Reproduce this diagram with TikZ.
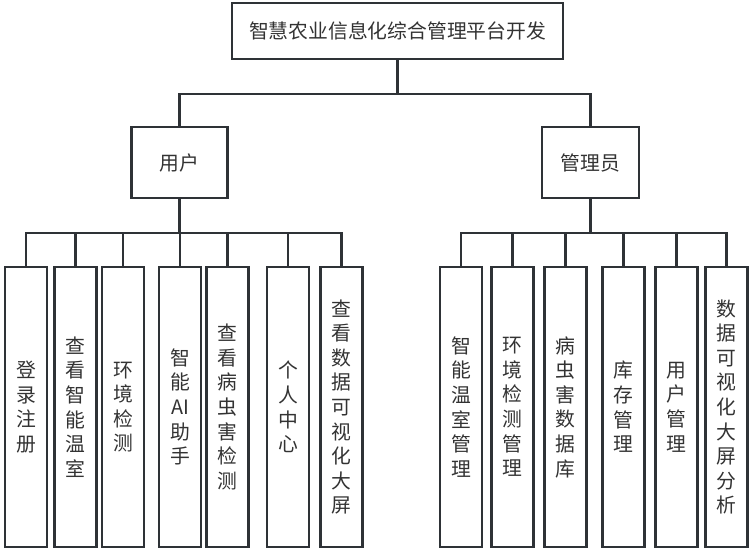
\documentclass[tikz,border=0pt]{standalone}
\usepackage{fontspec}
\setmainfont{Noto Sans CJK SC}
\definecolor{linegray}{HTML}{2E3236}
\definecolor{textgray}{HTML}{333333}
\tikzset{
    box/.style={draw=linegray, line width=2.2pt, fill=white, text=textgray,
        align=center, inner sep=0pt, font=\fontsize{19.8}{24.6}\selectfont},
    leaf/.style={box, minimum width=42pt, minimum height=280pt},
    link/.style={draw=linegray, line width=2.2pt}
}

\begin{document}
\begin{tikzpicture}[x=1pt,y=-1pt]
    \useasboundingbox (0,0) rectangle (756,555);

    % top and second level
    \node[box, minimum width=331pt, minimum height=56pt] (top) at (397.5,31) {智慧农业信息化综合管理平台开发};
    \node[box, minimum width=96pt, minimum height=71pt] (user) at (179.5,162.5) {用户};
    \node[box, minimum width=97pt, minimum height=71pt] (admin) at (590.5,162.5) {管理员};

    \coordinate (tbar) at (397.5,94);
    \coordinate (ubar) at (179.5,233);
    \coordinate (abar) at (590.5,233);

    % user leaves
    \node[leaf] (u1) at (26,407) {登\\录\\注\\册};
    \node[leaf] (u2) at (75.5,407) {查\\看\\智\\能\\温\\室};
    \node[leaf] (u3) at (123,407) {环\\境\\检\\测};
    \node[leaf] (u4) at (180,407) {智\\能\\AI\\助\\手};
    \node[leaf] (u5) at (227.5,407) {查\\看\\病\\虫\\害\\检\\测};
    \node[leaf] (u6) at (288,407) {个\\人\\中\\心};
    \node[leaf] (u7) at (341.5,407) {查\\看\\数\\据\\可\\视\\化\\大\\屏};

    % admin leaves
    \node[leaf] (a1) at (461,407) {智\\能\\温\\室\\管\\理};
    \node[leaf] (a2) at (512.5,407) {环\\境\\检\\测\\管\\理};
    \node[leaf] (a3) at (565.5,407) {病\\虫\\害\\数\\据\\库};
    \node[leaf] (a4) at (623.5,407) {库\\存\\管\\理};
    \node[leaf] (a5) at (676.5,407) {用\\户\\管\\理};
    \node[leaf] (a6) at (726.5,407) {数\\据\\可\\视\\化\\大\\屏\\分\\析};

    % connectors
    \draw[link] (top.south) -- (tbar);
    \draw[link] (user.north) |- (tbar) -| (admin.north);
    \draw[link] (user.south) -- (ubar);
    \draw[link] (admin.south) -- (abar);
    \foreach \n in {u1,u2,u3,u4,u5,u6,u7}
        \draw[link] (ubar) -| (\n.north);
    \foreach \n in {a1,a2,a3,a4,a5,a6}
        \draw[link] (abar) -| (\n.north);

\end{tikzpicture}
\end{document}
